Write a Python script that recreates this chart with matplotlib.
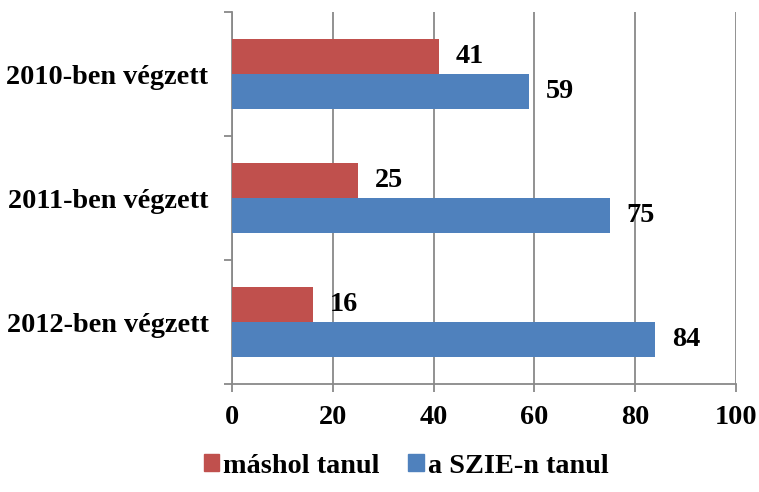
import matplotlib.pyplot as plt
from matplotlib.patches import Patch
import numpy as np

categories = ['2010-ben végzett', '2011-ben végzett', '2012-ben végzett']
mashol = [41, 25, 16]
szie = [59, 75, 84]
series_names = ['máshol tanul', 'a SZIE-n tanul']
x_ticks = [0, 20, 40, 60, 80, 100]

red = '#c0504d'
blue = '#4f81bd'
grey = '#898989'

plt.rcParams['font.family'] = ['Liberation Serif', 'DejaVu Serif']
plt.rcParams['font.weight'] = 'bold'
fs = 20.3

fig = plt.figure(figsize=(7.59, 4.92), dpi=100)
ax = fig.add_axes([0.3057, 0.2195, 0.664, 0.7561])

y = np.arange(len(categories))
h = 0.282
ax.barh(y - h / 2, mashol, height=h, color=red, zorder=3)
ax.barh(y + h / 2, szie, height=h, color=blue, zorder=3)

# value labels right of each bar
for yi, v in zip(y, mashol):
    ax.text(v + 3.3, yi - h / 2, str(v), va='center', ha='left',
            fontsize=fs, fontweight='bold')
for yi, v in zip(y, szie):
    ax.text(v + 3.3, yi + h / 2, str(v), va='center', ha='left',
            fontsize=fs, fontweight='bold')

ax.set_xlim(0, 100)
ax.set_ylim(len(categories) - 0.5, -0.5)
ax.set_xticks(x_ticks)
ax.set_xticklabels([str(t) for t in x_ticks], fontsize=fs, fontweight='bold')
ax.set_yticks(y)
ax.set_yticklabels(categories, fontsize=fs, fontweight='bold')
ax.set_yticks(np.arange(len(categories) + 1) - 0.5, minor=True)

ax.tick_params(axis='y', which='major', length=0, pad=17)
ax.tick_params(axis='y', which='minor', length=6, width=1.3, color=grey)
ax.tick_params(axis='x', which='major', length=6, width=1.3, color=grey, pad=9)

ax.xaxis.grid(True, color=grey, linewidth=1.3, zorder=0)
for side in ['top', 'right']:
    ax.spines[side].set_visible(False)
for side in ['left', 'bottom']:
    ax.spines[side].set_color(grey)
    ax.spines[side].set_linewidth(1.3)

handles = [Patch(color=red), Patch(color=blue)]
fig.legend(handles, series_names, loc='center', bbox_to_anchor=(0.535, 0.052),
           ncol=2, frameon=False, handlelength=0.55, handleheight=0.55,
           handletextpad=0.15, columnspacing=1.0,
           prop={'weight': 'bold', 'size': fs})

fig.savefig('out.png', dpi=100)
